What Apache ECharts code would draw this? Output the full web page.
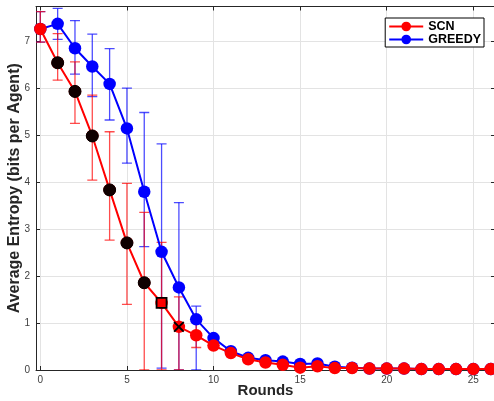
<!DOCTYPE html>
<html>
<head>
<meta charset="utf-8">
<script src="https://cdn.jsdelivr.net/npm/echarts@6/dist/echarts.min.js"></script>
<style>html,body{margin:0;padding:0;background:#fff}#c{width:494px;height:401px}</style>
</head>
<body>
<div id="c"></div>
<script>
const rounds = [0,1,2,3,4,5,6,7,8,9,10,11,12,13,14,15,16,17,18,19,20,21,22,23,24,25,26];
const scnValues = [7.27,6.55,5.94,4.99,3.84,2.71,1.86,1.43,0.92,0.74,0.52,0.36,0.23,0.16,0.11,0.05,0.08,0.04,0.04,0.03,0.03,0.03,0.02,0.02,0.02,0.02,0.02];
const greedyValues = [7.27,7.38,6.86,6.47,6.10,5.15,3.80,2.52,1.76,1.08,0.68,0.40,0.26,0.21,0.18,0.13,0.14,0.07,0.05,0.03,0.03,0.03,0.02,0.02,0.02,0.02,0.02];
const scnLow  = [6.99,6.18,5.26,4.05,2.77,1.40,0.00,0.00,0.00,0.48];
const scnHigh = [7.64,7.17,6.57,5.86,5.08,3.98,3.36,2.72,1.56,1.02];
const greedyLow  = [6.99,7.05,6.31,5.83,5.33,4.41,2.63,0.04,0.00,0.00];
const greedyHigh = [7.64,7.71,7.45,7.16,6.85,6.01,5.49,4.82,3.57,1.36];
const blackCircleRounds = [1,2,3,4,5,6];
const squareRounds = [7];
const crossRounds = [8];
const xTicks = [0,5,10,15,20,25];
const yTicks = [0,1,2,3,4,5,6,7];

const FONT = "'Liberation Sans', Arial, Helvetica, sans-serif";
function errData(lo, hi){ return lo.map((l,i)=>[rounds[i], l, hi[i]]); }
function errRender(color){
  return function(params, api){
    const x = api.value(0), lo = api.value(1), hi = api.value(2);
    const a = api.coord([x, lo]), b = api.coord([x, hi]);
    const w = 5;
    const st = {stroke: color, lineWidth: 1.3, opacity: 0.7};
    return {type:'group', children:[
      {type:'line', shape:{x1:a[0],y1:a[1],x2:b[0],y2:b[1]}, style:st},
      {type:'line', shape:{x1:a[0]-w,y1:a[1],x2:a[0]+w,y2:a[1]}, style:st},
      {type:'line', shape:{x1:b[0]-w,y1:b[1],x2:b[0]+w,y2:b[1]}, style:st}
    ]};
  };
}
const pick = (idx, vals) => idx.map(i => [rounds[i], vals[i]]);
const axisLineStyle = {color:'#262626', width:1};
const xAxisBase = {type:'value', min:-0.25, max:26.25, splitNumber:5};
const yAxisBase = {type:'value', min:0, max:7.75, interval:1};

const chart = echarts.init(document.getElementById('c'), null, {renderer:'canvas'});
chart.setOption({
  animation:false,
  backgroundColor:'#fff',
  textStyle:{fontFamily:FONT},
  grid:{left:36, right:-1, top:6.5, bottom:31, containLabel:false, outerBoundsMode:'none'},
  legend:{
    data:['SCN','GREEDY'], orient:'vertical', right:10, top:18,
    itemWidth:34, itemHeight:12, itemGap:0,
    padding:[2,3,1,3], borderColor:'#000', borderWidth:1, backgroundColor:'#fff',
    textStyle:{fontFamily:FONT, fontWeight:'bold', fontSize:12.5, color:'#000', lineHeight:12}
  },
  xAxis:[
    Object.assign({}, xAxisBase, {
      position:'bottom', name:'Rounds', nameLocation:'middle', nameGap:13, nameMoveOverlap:false,
      nameTextStyle:{fontFamily:FONT, fontWeight:'bold', fontSize:15, color:'#262626'},
      axisLine:{show:true, onZero:false, lineStyle:axisLineStyle},
      axisTick:{show:true, inside:true, length:4, lineStyle:axisLineStyle},
      axisLabel:{show:true, fontSize:10, color:'#404040', margin:5, showMinLabel:false, showMaxLabel:false,
        formatter:v => xTicks.includes(v) ? String(v) : ''},
      splitLine:{show:true, lineStyle:{color:'#e3e3e3', width:1}}
    }),
    Object.assign({}, xAxisBase, {
      position:'top',
      axisLine:{show:true, onZero:false, lineStyle:axisLineStyle},
      axisTick:{show:true, inside:true, length:4, lineStyle:axisLineStyle},
      axisLabel:{show:false}, splitLine:{show:false}
    })
  ],
  yAxis:[
    Object.assign({}, yAxisBase, {
      position:'left', name:'Average Entropy (bits per Agent)', nameLocation:'middle', nameGap:13, nameMoveOverlap:false,
      nameTextStyle:{fontFamily:FONT, fontWeight:'bold', fontSize:16, color:'#262626'},
      axisLine:{show:true, onZero:false, lineStyle:axisLineStyle},
      axisTick:{show:true, inside:true, length:4, lineStyle:axisLineStyle},
      axisLabel:{show:true, fontSize:10, color:'#404040', margin:6, showMaxLabel:false,
        formatter:v => yTicks.includes(v) ? String(v) : ''},
      splitLine:{show:true, lineStyle:{color:'#e3e3e3', width:1}}
    }),
    Object.assign({}, yAxisBase, {
      position:'right',
      axisLine:{show:true, onZero:false, lineStyle:axisLineStyle},
      axisTick:{show:true, inside:true, length:4, lineStyle:axisLineStyle},
      axisLabel:{show:false}, splitLine:{show:false}
    })
  ],
  series:[
    {type:'custom', name:'greedyErr', renderItem:errRender('#0000ff'), data:errData(greedyLow, greedyHigh), clip:true, z:1, silent:true},
    {type:'custom', name:'scnErr', renderItem:errRender('#ff0000'), data:errData(scnLow, scnHigh), clip:true, z:1, silent:true},
    {type:'line', name:'GREEDY', data:rounds.map((r,i)=>[r, greedyValues[i]]), color:'#0000ff',
      symbol:'circle', symbolSize:12.5, showAllSymbol:true, lineStyle:{width:2, color:'#0000ff'},
      itemStyle:{color:'#0000ff'}, z:3},
    {type:'line', name:'SCN', data:rounds.map((r,i)=>[r, scnValues[i]]), color:'#ff0000',
      symbol:'circle', symbolSize:12.5, showAllSymbol:true, lineStyle:{width:2, color:'#ff0000'},
      itemStyle:{color:'#ff0000'}, z:4},
    {type:'scatter', name:'black', data:pick(blackCircleRounds, scnValues), symbol:'circle', symbolSize:12,
      itemStyle:{color:'#100000', borderColor:'#000', borderWidth:1, opacity:1}, z:5, silent:true},
    {type:'scatter', name:'square', data:pick(squareRounds, scnValues), symbol:'rect', symbolSize:10,
      itemStyle:{color:'#ff0000', borderColor:'#000', borderWidth:1.8, opacity:1}, z:5, silent:true},
    {type:'scatter', name:'cross', data:pick(crossRounds, scnValues),
      symbol:'path://M0,1.2 L1.2,0 L5,3.8 L8.8,0 L10,1.2 L6.2,5 L10,8.8 L8.8,10 L5,6.2 L1.2,10 L0,8.8 L3.8,5 Z',
      symbolSize:11, itemStyle:{color:'#000', opacity:1}, z:5, silent:true}
  ]
});
</script>
</body>
</html>
